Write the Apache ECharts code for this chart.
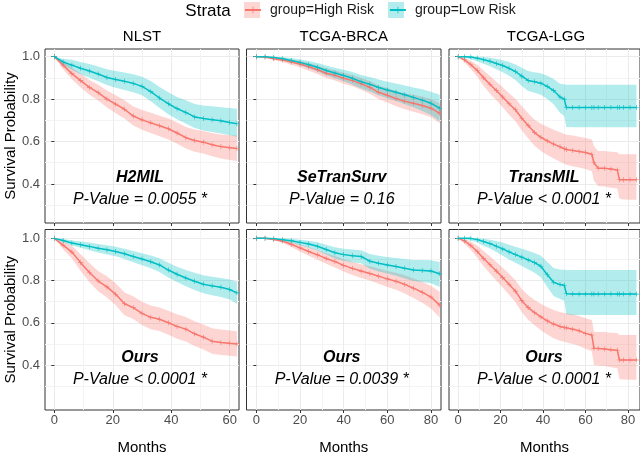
<!DOCTYPE html>
<html>
<head>
<meta charset="utf-8">
<script src="https://cdn.jsdelivr.net/npm/echarts@6/dist/echarts.min.js"></script>
<style>
  html, body { margin: 0; padding: 0; background: #fff; }
  #chart { width: 640px; height: 469px; }
</style>
</head>
<body>
<div id="chart"></div>
<script>
// month grids (one per cohort)
const nlstMonths = [0, 3, 6, 9, 12, 15, 18, 21, 24, 27, 30, 33, 36, 39, 42, 45, 48, 51, 54, 57, 60, 62.5];
const brcaMonths = [0, 4, 8, 12, 16, 20, 24, 28, 32, 36, 40, 44, 48, 52, 56, 60, 64, 68, 72, 76, 80, 84];
const lggMonths  = [0, 3, 6, 9, 12, 15, 18, 21, 24, 27, 30, 33, 36, 39, 42, 45, 48, 50, 51, 54, 57, 60, 63, 64, 66, 69, 72, 75, 76, 78, 81, 84];

// H2MIL / NLST
const h2milHigh   = [1, 0.96, 0.92, 0.887, 0.855, 0.83, 0.80, 0.776, 0.752, 0.72, 0.702, 0.688, 0.674, 0.66, 0.64, 0.618, 0.605, 0.597, 0.585, 0.576, 0.571, 0.567];
const h2milHighLo = [1, 0.94, 0.893, 0.855, 0.82, 0.793, 0.76, 0.733, 0.708, 0.675, 0.655, 0.64, 0.625, 0.61, 0.59, 0.567, 0.552, 0.543, 0.53, 0.52, 0.513, 0.508];
const h2milHighHi = [1, 0.98, 0.948, 0.92, 0.89, 0.868, 0.84, 0.818, 0.795, 0.765, 0.748, 0.735, 0.722, 0.708, 0.69, 0.668, 0.657, 0.65, 0.64, 0.633, 0.63, 0.628];
const h2milLow    = [1, 0.975, 0.96, 0.945, 0.932, 0.918, 0.902, 0.892, 0.884, 0.874, 0.86, 0.835, 0.805, 0.778, 0.755, 0.737, 0.716, 0.708, 0.703, 0.698, 0.69, 0.684];
const h2milLowLo  = [1, 0.96, 0.937, 0.917, 0.9, 0.884, 0.866, 0.853, 0.843, 0.832, 0.818, 0.79, 0.758, 0.728, 0.705, 0.685, 0.664, 0.652, 0.645, 0.638, 0.63, 0.622];
const h2milLowHi  = [1, 0.99, 0.985, 0.975, 0.965, 0.953, 0.94, 0.932, 0.925, 0.917, 0.905, 0.885, 0.857, 0.832, 0.81, 0.795, 0.777, 0.77, 0.766, 0.762, 0.758, 0.755];

// SeTranSurv / TCGA-BRCA
const setranHigh   = [1, 0.998, 0.99, 0.984, 0.975, 0.965, 0.952, 0.938, 0.922, 0.912, 0.898, 0.887, 0.872, 0.855, 0.832, 0.818, 0.802, 0.79, 0.78, 0.77, 0.757, 0.733];
const setranHighLo = [1, 0.995, 0.983, 0.975, 0.962, 0.95, 0.934, 0.918, 0.899, 0.888, 0.872, 0.86, 0.844, 0.825, 0.80, 0.784, 0.766, 0.752, 0.74, 0.728, 0.714, 0.686];
const setranHighHi = [1, 1, 0.997, 0.993, 0.987, 0.98, 0.97, 0.958, 0.945, 0.936, 0.924, 0.914, 0.90, 0.885, 0.864, 0.852, 0.838, 0.828, 0.82, 0.812, 0.80, 0.78];
const setranLow    = [1, 1, 0.996, 0.99, 0.982, 0.973, 0.962, 0.95, 0.935, 0.923, 0.911, 0.898, 0.882, 0.87, 0.855, 0.843, 0.832, 0.82, 0.808, 0.795, 0.78, 0.757];
const setranLowLo  = [1, 0.996, 0.99, 0.982, 0.971, 0.959, 0.945, 0.93, 0.912, 0.898, 0.884, 0.868, 0.85, 0.836, 0.818, 0.804, 0.791, 0.776, 0.761, 0.744, 0.725, 0.695];
const setranLowHi  = [1, 1, 1, 0.998, 0.993, 0.987, 0.979, 0.97, 0.958, 0.948, 0.938, 0.928, 0.914, 0.904, 0.892, 0.882, 0.873, 0.864, 0.855, 0.846, 0.835, 0.82];

// TransMIL / TCGA-LGG
const transHigh   = [1, 0.985, 0.962, 0.935, 0.90, 0.87, 0.84, 0.81, 0.778, 0.75, 0.71, 0.675, 0.642, 0.62, 0.603, 0.588, 0.575, 0.566, 0.562, 0.558, 0.553, 0.548, 0.54, 0.50, 0.474, 0.474, 0.47, 0.466, 0.42, 0.42, 0.42, 0.42];
const transHighLo = [1, 0.972, 0.942, 0.905, 0.862, 0.826, 0.795, 0.762, 0.726, 0.695, 0.652, 0.615, 0.58, 0.555, 0.536, 0.52, 0.505, 0.495, 0.49, 0.484, 0.478, 0.47, 0.46, 0.415, 0.39, 0.388, 0.382, 0.378, 0.33, 0.327, 0.325, 0.325];
const transHighHi = [1, 0.995, 0.98, 0.962, 0.935, 0.91, 0.882, 0.856, 0.828, 0.802, 0.766, 0.733, 0.703, 0.684, 0.67, 0.656, 0.644, 0.636, 0.632, 0.628, 0.622, 0.617, 0.61, 0.578, 0.555, 0.555, 0.552, 0.55, 0.54, 0.54, 0.54, 0.54];
const transLow    = [1, 1, 0.998, 0.993, 0.985, 0.978, 0.968, 0.958, 0.945, 0.93, 0.908, 0.888, 0.882, 0.875, 0.86, 0.84, 0.81, 0.80, 0.76, 0.76, 0.76, 0.76, 0.76, 0.76, 0.76, 0.76, 0.76, 0.76, 0.76, 0.76, 0.76, 0.76];
const transLowLo  = [1, 0.995, 0.988, 0.978, 0.966, 0.955, 0.94, 0.927, 0.91, 0.89, 0.862, 0.838, 0.83, 0.82, 0.80, 0.776, 0.735, 0.72, 0.668, 0.667, 0.667, 0.667, 0.667, 0.667, 0.667, 0.667, 0.667, 0.667, 0.667, 0.667, 0.667, 0.667];
const transLowHi  = [1, 1, 1, 1, 0.998, 0.995, 0.99, 0.983, 0.975, 0.963, 0.948, 0.932, 0.927, 0.922, 0.91, 0.895, 0.872, 0.87, 0.868, 0.867, 0.867, 0.867, 0.867, 0.867, 0.867, 0.867, 0.867, 0.867, 0.867, 0.867, 0.867, 0.867];

// Ours / NLST
const oursNlstHigh   = [1, 0.968, 0.935, 0.885, 0.838, 0.798, 0.77, 0.735, 0.69, 0.672, 0.645, 0.626, 0.617, 0.60, 0.583, 0.57, 0.548, 0.532, 0.513, 0.507, 0.503, 0.50];
const oursNlstHighLo = [1, 0.948, 0.905, 0.845, 0.793, 0.75, 0.72, 0.683, 0.636, 0.618, 0.59, 0.57, 0.561, 0.543, 0.525, 0.512, 0.49, 0.473, 0.454, 0.448, 0.444, 0.44];
const oursNlstHighHi = [1, 0.988, 0.965, 0.925, 0.883, 0.846, 0.82, 0.787, 0.744, 0.726, 0.70, 0.682, 0.673, 0.657, 0.641, 0.628, 0.607, 0.592, 0.574, 0.568, 0.564, 0.56];
const oursNlstLow    = [1, 0.99, 0.978, 0.97, 0.962, 0.953, 0.946, 0.938, 0.927, 0.914, 0.902, 0.889, 0.874, 0.85, 0.83, 0.812, 0.797, 0.783, 0.775, 0.768, 0.758, 0.742];
const oursNlstLowLo  = [1, 0.982, 0.966, 0.955, 0.944, 0.933, 0.924, 0.915, 0.902, 0.887, 0.873, 0.858, 0.841, 0.815, 0.793, 0.773, 0.756, 0.74, 0.731, 0.722, 0.71, 0.69];
const oursNlstLowHi  = [1, 0.998, 0.99, 0.985, 0.98, 0.973, 0.967, 0.96, 0.951, 0.94, 0.93, 0.919, 0.906, 0.884, 0.866, 0.85, 0.837, 0.825, 0.818, 0.812, 0.805, 0.795];

// Ours / TCGA-BRCA
const oursBrcaHigh   = [1, 1, 0.995, 0.987, 0.972, 0.955, 0.938, 0.922, 0.905, 0.89, 0.872, 0.858, 0.845, 0.834, 0.821, 0.808, 0.797, 0.782, 0.764, 0.745, 0.722, 0.684];
const oursBrcaHighLo = [1, 0.997, 0.99, 0.978, 0.959, 0.938, 0.918, 0.899, 0.88, 0.862, 0.843, 0.827, 0.812, 0.80, 0.785, 0.77, 0.757, 0.739, 0.718, 0.695, 0.668, 0.625];
const oursBrcaHighHi = [1, 1, 0.999, 0.995, 0.985, 0.972, 0.958, 0.945, 0.93, 0.917, 0.901, 0.889, 0.877, 0.868, 0.857, 0.846, 0.837, 0.825, 0.81, 0.795, 0.775, 0.747];
const oursBrcaLow    = [1, 1, 0.998, 0.994, 0.989, 0.981, 0.973, 0.963, 0.947, 0.932, 0.923, 0.918, 0.914, 0.892, 0.882, 0.874, 0.867, 0.858, 0.85, 0.848, 0.845, 0.832];
const oursBrcaLowLo  = [1, 0.997, 0.993, 0.986, 0.978, 0.967, 0.956, 0.943, 0.923, 0.905, 0.894, 0.887, 0.882, 0.856, 0.843, 0.833, 0.823, 0.81, 0.798, 0.793, 0.787, 0.77];
const oursBrcaLowHi  = [1, 1, 1, 1, 0.998, 0.994, 0.989, 0.982, 0.97, 0.958, 0.951, 0.947, 0.944, 0.926, 0.918, 0.912, 0.907, 0.902, 0.897, 0.897, 0.896, 0.888];

// Ours / TCGA-LGG
const oursLggHigh   = [1, 0.988, 0.966, 0.938, 0.905, 0.875, 0.845, 0.815, 0.783, 0.75, 0.705, 0.672, 0.648, 0.628, 0.609, 0.594, 0.583, 0.578, 0.576, 0.57, 0.562, 0.55, 0.542, 0.479, 0.478, 0.476, 0.472, 0.47, 0.424, 0.424, 0.424, 0.424];
const oursLggHighLo = [1, 0.975, 0.945, 0.908, 0.868, 0.833, 0.80, 0.767, 0.733, 0.697, 0.65, 0.615, 0.588, 0.565, 0.545, 0.527, 0.515, 0.51, 0.507, 0.50, 0.49, 0.477, 0.465, 0.40, 0.398, 0.395, 0.39, 0.385, 0.333, 0.331, 0.33, 0.33];
const oursLggHighHi = [1, 0.997, 0.985, 0.966, 0.94, 0.915, 0.888, 0.861, 0.832, 0.802, 0.76, 0.73, 0.708, 0.69, 0.674, 0.661, 0.651, 0.647, 0.645, 0.64, 0.632, 0.622, 0.613, 0.558, 0.557, 0.556, 0.553, 0.552, 0.542, 0.542, 0.542, 0.542];
const oursLggLow    = [1, 1, 1, 0.994, 0.985, 0.975, 0.963, 0.95, 0.936, 0.923, 0.911, 0.898, 0.885, 0.868, 0.828, 0.792, 0.781, 0.778, 0.738, 0.736, 0.736, 0.736, 0.736, 0.736, 0.736, 0.736, 0.736, 0.736, 0.736, 0.736, 0.736, 0.736];
const oursLggLowLo  = [1, 0.996, 0.99, 0.98, 0.965, 0.952, 0.935, 0.918, 0.90, 0.884, 0.869, 0.853, 0.837, 0.816, 0.77, 0.727, 0.713, 0.705, 0.64, 0.637, 0.637, 0.637, 0.637, 0.637, 0.637, 0.637, 0.637, 0.637, 0.637, 0.637, 0.637, 0.637];
const oursLggLowHi  = [1, 1, 1, 1, 0.998, 0.994, 0.988, 0.98, 0.97, 0.96, 0.951, 0.941, 0.931, 0.918, 0.888, 0.86, 0.852, 0.851, 0.85, 0.85, 0.85, 0.85, 0.85, 0.85, 0.85, 0.85, 0.85, 0.85, 0.85, 0.85, 0.85, 0.85];

// ticks
const xTicksNlst = [0, 20, 40, 60];
const xTicksTcga = [0, 20, 40, 60, 80];
const xMinorNlst = [10, 30, 50];
const xMinorTcga = [10, 30, 50, 70];
const yTicks = [0.4, 0.6, 0.8, 1.0];
const yMinor = [0.3, 0.5, 0.7, 0.9];

const cohortTitles = ['NLST', 'TCGA-BRCA', 'TCGA-LGG'];
const groupNames = ['group=High Risk', 'group=Low Risk'];

const FONT = '"Liberation Sans", Arial, Helvetica, sans-serif';
const RED = '#F8766D', CYAN = '#00BFC4';
const RED_FILL = 'rgba(248,118,109,0.3)', CYAN_FILL = 'rgba(0,191,196,0.3)';
const PLUS = 'path://M4.4,0H5.6V4.4H10V5.6H5.6V10H4.4V5.6H0V4.4H4.4Z';

// layout (px)
const cols = [{left: 45, width: 194}, {left: 246.5, width: 194.5}, {left: 449, width: 194}];
const rows = [{top: 49, height: 174}, {top: 229.5, height: 180.5}];
const xRanges = [[-3.2, 63.2], [-4.5, 84.6], [-4.3, 85.7]];
const yRanges = [[0.216, 1.036], [0.187, 1.042]];

const panels = [
  {row: 0, col: 0, months: nlstMonths, model: 'H2MIL', pval: 'P-Value = 0.0055 *',
   high: [h2milHigh, h2milHighLo, h2milHighHi], low: [h2milLow, h2milLowLo, h2milLowHi]},
  {row: 0, col: 1, months: brcaMonths, model: 'SeTranSurv', pval: 'P-Value = 0.16',
   high: [setranHigh, setranHighLo, setranHighHi], low: [setranLow, setranLowLo, setranLowHi]},
  {row: 0, col: 2, months: lggMonths, model: 'TransMIL', pval: 'P-Value < 0.0001 *',
   high: [transHigh, transHighLo, transHighHi], low: [transLow, transLowLo, transLowHi]},
  {row: 1, col: 0, months: nlstMonths, model: 'Ours', pval: 'P-Value < 0.0001 *',
   high: [oursNlstHigh, oursNlstHighLo, oursNlstHighHi], low: [oursNlstLow, oursNlstLowLo, oursNlstLowHi]},
  {row: 1, col: 1, months: brcaMonths, model: 'Ours', pval: 'P-Value = 0.0039 *',
   high: [oursBrcaHigh, oursBrcaHighLo, oursBrcaHighHi], low: [oursBrcaLow, oursBrcaLowLo, oursBrcaLowHi]},
  {row: 1, col: 2, months: lggMonths, model: 'Ours', pval: 'P-Value < 0.0001 *',
   high: [oursLggHigh, oursLggHighLo, oursLggHighHi], low: [oursLggLow, oursLggLowLo, oursLggLowHi]}
];

// confidence ribbon as one polygon through the axis scales
function bandSeries(i, months, lo, hi, fill) {
  return {
    type: 'custom', xAxisIndex: i, yAxisIndex: i, silent: true, z: 2,
    data: months.map(function(m, k) { return [m, lo[k], hi[k]]; }),
    encode: {x: 0, y: [1, 2]},
    renderItem: function(params, api) {
      if (params.dataIndex !== 0) return null;
      let top = [], bot = [];
      for (let k = 0; k < months.length; k++) {
        top.push(api.coord([months[k], hi[k]]));
        bot.push(api.coord([months[k], lo[k]]));
      }
      return {type: 'polygon', shape: {points: top.concat(bot.reverse())}, style: {fill: fill}};
    }
  };
}

let grids = [], xAxes = [], yAxes = [], series = [], graphics = [];

panels.forEach(function(p, i) {
  let c = cols[p.col], r = rows[p.row];
  let xt = p.col === 0 ? xTicksNlst : xTicksTcga;

  grids.push({left: c.left, top: r.top, width: c.width, height: r.height,
    show: true, backgroundColor: '#fff', borderColor: '#333', borderWidth: 1});

  xAxes.push({
    gridIndex: i, type: 'value', min: xRanges[p.col][0], max: xRanges[p.col][1],
    axisLine: {show: false},
    axisTick: {show: true, length: 3, customValues: xt, lineStyle: {color: '#333'}},
    axisLabel: {show: p.row === 1, customValues: xt, margin: 4, fontSize: 13, color: '#4d4d4d', fontFamily: FONT},
    splitLine: {show: true, lineStyle: {color: '#ebebeb', width: 1}},
    name: p.row === 1 ? 'Months' : '', nameLocation: 'middle', nameGap: 30,
    nameTextStyle: {fontSize: 15, color: '#000', fontFamily: FONT}
  });
  yAxes.push({
    gridIndex: i, type: 'value', min: yRanges[p.row][0], max: yRanges[p.row][1],
    axisLine: {show: false},
    axisTick: {show: true, length: 3, customValues: yTicks, lineStyle: {color: '#333'}},
    axisLabel: {show: p.col === 0, customValues: yTicks, margin: 5, fontSize: 13, color: '#4d4d4d', fontFamily: FONT,
      formatter: function(v) { return v.toFixed(1); }},
    splitLine: {show: true, lineStyle: {color: '#ebebeb', width: 1}},
    name: p.col === 0 ? 'Survival Probability' : '', nameLocation: 'middle', nameGap: 25,
    nameTextStyle: {fontSize: 15, color: '#000', fontFamily: FONT}
  });

  series.push(bandSeries(i, p.months, p.high[1], p.high[2], RED_FILL));
  series.push(bandSeries(i, p.months, p.low[1], p.low[2], CYAN_FILL));

  [[p.high[0], RED, groupNames[0]], [p.low[0], CYAN, groupNames[1]]].forEach(function(g) {
    series.push({
      name: g[2], type: 'line', xAxisIndex: i, yAxisIndex: i,
      symbol: PLUS, symbolSize: 5, showAllSymbol: true, silent: true, z: 3,
      lineStyle: {color: g[1], width: 1.5}, itemStyle: {color: g[1]},
      data: p.months.map(function(m, k) { return [m, g[0][k]]; })
    });
  });

  let cx = c.left + c.width / 2 - 2;
  let ty = p.row === 0 ? 178 : 358;
  graphics.push({type: 'text', z: 50, x: cx, y: ty, style: {
    text: p.model, fill: '#000', font: 'italic bold 16px ' + FONT, textAlign: 'center', textVerticalAlign: 'middle'}});
  graphics.push({type: 'text', z: 50, x: cx, y: ty + 22, style: {
    text: p.pval, fill: '#000', font: 'italic 16px ' + FONT, textAlign: 'center', textVerticalAlign: 'middle'}});
  if (p.row === 0) {
    graphics.push({type: 'text', z: 50, x: c.left + c.width / 2, y: 37, style: {
      text: cohortTitles[p.col], fill: '#000', font: '15px ' + FONT, textAlign: 'center', textVerticalAlign: 'middle'}});
  }
});

// minor grid lines: hidden axes with their own tick values
panels.forEach(function(p, i) {
  let xm = p.col === 0 ? xMinorNlst : xMinorTcga;
  xAxes.push({
    gridIndex: i, type: 'value', position: 'bottom', min: xRanges[p.col][0], max: xRanges[p.col][1],
    axisLine: {show: false}, axisTick: {show: false, customValues: xm},
    axisLabel: {show: false, customValues: xm},
    splitLine: {show: true, lineStyle: {color: '#f4f4f4', width: 1}}
  });
  yAxes.push({
    gridIndex: i, type: 'value', position: 'left', min: yRanges[p.row][0], max: yRanges[p.row][1],
    axisLine: {show: false}, axisTick: {show: false, customValues: yMinor},
    axisLabel: {show: false, customValues: yMinor},
    splitLine: {show: true, lineStyle: {color: '#f4f4f4', width: 1}}
  });
});

// legend title and the ribbon squares behind the legend keys
graphics.push({type: 'text', z: 50, x: 208, y: 11, style: {
  text: 'Strata', fill: '#000', font: '17px ' + FONT, textAlign: 'center', textVerticalAlign: 'middle'}});
graphics.push({type: 'rect', z: 0, shape: {x: 244, y: 2, width: 16, height: 16}, style: {fill: RED_FILL}});
graphics.push({type: 'rect', z: 0, shape: {x: 388, y: 2, width: 16, height: 16}, style: {fill: CYAN_FILL}});

let chart = echarts.init(document.getElementById('chart'), null, {renderer: 'canvas'});
chart.setOption({
  animation: false,
  backgroundColor: '#fff',
  textStyle: {fontFamily: FONT},
  legend: {
    top: 2, left: 244, padding: 0, itemWidth: 16, itemHeight: 8, itemGap: 15,
    textStyle: {fontSize: 14, color: '#1a1a1a', fontFamily: FONT, padding: [0, 0, 0, 4], lineHeight: 16},
    data: groupNames,
    selectedMode: false
  },
  grid: grids,
  xAxis: xAxes,
  yAxis: yAxes,
  series: series,
  graphic: graphics
});
</script>
</body>
</html>
